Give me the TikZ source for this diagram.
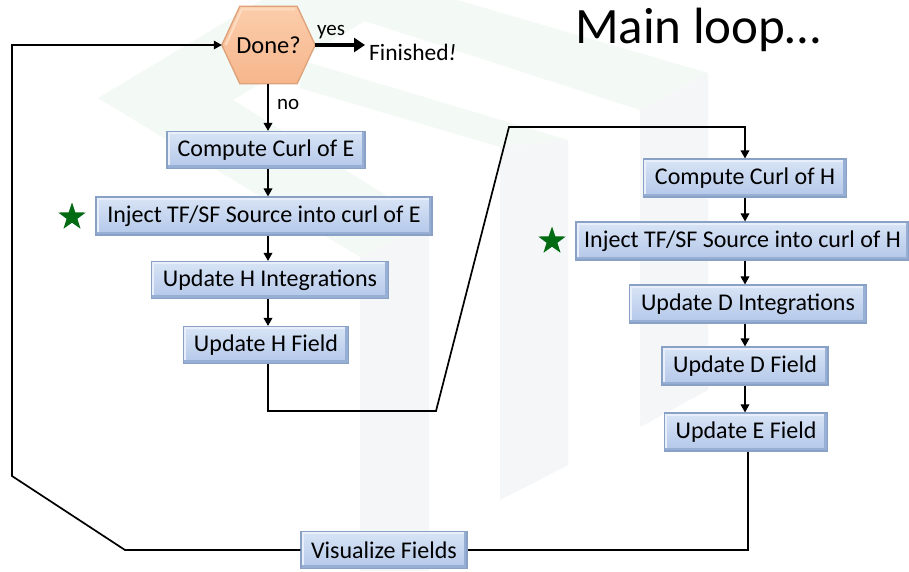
\documentclass[tikz,border=0pt]{standalone}
\usepackage{fontspec}
\setmainfont{Carlito}
\usetikzlibrary{arrows.meta,shapes.geometric}
\definecolor{boxtop}{HTML}{D9E5F6}
\definecolor{boxbot}{HTML}{B3C7E9}
\definecolor{boxline}{HTML}{8AA1C6}
\definecolor{boxdark}{HTML}{97AFD5}
\definecolor{boxlight}{HTML}{E8EFFA}
\definecolor{hextop}{HTML}{FBCDAB}
\definecolor{hexbot}{HTML}{F6B68C}
\definecolor{hexline}{HTML}{DDA27A}
\definecolor{hexlight}{HTML}{FDDCC2}
\definecolor{stargreen}{HTML}{006B12}
\definecolor{wmgreen}{HTML}{F3F9F5}
\definecolor{wmgray}{HTML}{F5F6F8}
\pgfdeclarelayer{bg}
\pgfsetlayers{bg,main}
\begin{document}
\begin{tikzpicture}[x=1pt,y=-1pt,
  fbox/.style={draw=boxline, line width=1.1pt, top color=boxtop, bottom color=boxbot,
    minimum height=37pt, inner sep=0pt, font=\fontsize{24}{26}\selectfont,
    path picture={
      \fill[boxdark] (path picture bounding box.south west) rectangle ([yshift=3.5pt]path picture bounding box.south east);
      \fill[boxdark] ([xshift=-3.5pt]path picture bounding box.south east) rectangle (path picture bounding box.north east);
      \fill[boxlight] ([yshift=-2.5pt]path picture bounding box.north west) rectangle ([xshift=-3.5pt]path picture bounding box.north east);
      \fill[boxlight] ([yshift=3.5pt]path picture bounding box.south west) rectangle ([xshift=2.5pt]path picture bounding box.north west);
    }},
  conn/.style={line width=1.7pt, draw=black},
  arr/.style={conn, -{Triangle[length=8pt,width=8.5pt]}},
  lbl/.style={font=\fontsize{21}{23}\selectfont, inner sep=0pt},
  starnode/.style={star, star points=5, star point ratio=2.55, fill=stargreen, minimum size=29pt, inner sep=0pt}
]
\useasboundingbox (0,0) rectangle (909,571);
\begin{pgfonlayer}{bg}
\fill[white] (0,0) rectangle (909,571);
% faint watermark
\fill[wmgreen] (98,98) -- (233,100) -- (429,222) -- (360,257) -- cycle;
\fill[wmgreen] (98,98) -- (262,0) -- (400,0) -- (233,100) -- cycle;
\fill[wmgreen] (300,0) -- (457,0) -- (708,73) -- (640,110) -- cycle;
\fill[wmgreen] (300,60) -- (568,140) -- (500,147) -- (300,88) -- cycle;
\fill[wmgray] (360,257) -- (429,222) -- (429,571) -- (360,571) -- cycle;
\fill[wmgray] (500,147) -- (568,140) -- (568,465) -- (500,500) -- cycle;
\fill[wmgray] (640,110) -- (708,73) -- (708,390) -- (640,427) -- cycle;
\end{pgfonlayer}

% decision
\node[minimum width=93pt, minimum height=77pt, inner sep=0pt, font=\fontsize{24.5}{26}\selectfont] (done) at (268.5,45) {Done?};
\begin{pgfonlayer}{bg}
\path[draw=hexline, line width=1.3pt, top color=hextop, bottom color=hexbot]
  (done.west) -- ([xshift=18pt]done.north west) -- ([xshift=-18pt]done.north east)
  -- (done.east) -- ([xshift=-18pt]done.south east) -- ([xshift=18pt]done.south west) -- cycle;
\draw[hexlight, line width=2pt]
  ([xshift=4pt]done.west) -- ([xshift=20pt,yshift=-3pt]done.north west) -- ([xshift=-20pt,yshift=-3pt]done.north east);
\end{pgfonlayer}
\node[lbl, anchor=west, font=\fontsize{23.5}{25}\selectfont] (fin) at (369,52) {Finished\textit{!}};
\coordinate (yesend) at (365,45);

% left column
\node[fbox, minimum width=198pt] (ccE) at (266,150) {Compute Curl of E};
\node[fbox, minimum width=336pt, minimum height=38pt] (injE) at (264,216) {Inject TF/SF Source into curl of E};
\node[fbox, minimum width=237pt] (updHI) at (270,280) {Update H Integrations};
\node[fbox, minimum width=165pt] (updHF) at (266,345) {Update H Field};
\node[starnode] (starE) at (72,217) {};

% right column
\node[fbox, minimum width=203pt, minimum height=38pt] (ccH) at (745,178) {Compute Curl of H};
\node[fbox, minimum width=333pt, minimum height=38pt] (injH) at (742.5,241) {Inject TF/SF Source into curl of H};
\node[fbox, minimum width=237pt, minimum height=38pt] (updDI) at (748,304) {Update D Integrations};
\node[fbox, minimum width=166pt, minimum height=38pt] (updDF) at (745,366) {Update D Field};
\node[fbox, minimum width=163pt, minimum height=38pt] (updEF) at (746,432) {Update E Field};
\node[starnode] (starH) at (552,241) {};

% bottom
\node[fbox, minimum width=166pt] (vis) at (384,550) {Visualize Fields};

% title
\node[anchor=west, inner sep=0pt, font=\fontsize{51}{56}\selectfont] (title) at (575,30) {Main loop…};

% column guides
\coordinate (cL) at (268,0);
\coordinate (cR) at (745,0);

% connectors
\draw[line width=4.5pt, -{Triangle[length=11pt,width=14pt]}] (done.east) -- (yesend);
\node[lbl, anchor=south west] (yes) at (317,39) {yes};
\draw[arr] (cL |- done.south) -- (cL |- ccE.north);
\node[lbl, anchor=west] (no) at (277,104) {no};
\draw[arr] (cL |- ccE.south) -- (cL |- injE.north);
\draw[arr] (cL |- injE.south) -- (cL |- updHI.north);
\draw[arr] (cL |- updHI.south) -- (cL |- updHF.north);
\draw[conn] (cL |- updHF.south) -- (268,411) -- (436,411) -- (509,127) -- (745,127);
\draw[arr] (745,126.2) -- (cR |- ccH.north);
\draw[arr] (cR |- ccH.south) -- (cR |- injH.north);
\draw[arr] (cR |- injH.south) -- (cR |- updDI.north);
\draw[arr] (cR |- updDI.south) -- (cR |- updDF.north);
\draw[arr] (cR |- updDF.south) -- (cR |- updEF.north);
\draw[conn] (748,0 |- updEF.south) -- (748,550) -- (vis.east);
\draw[arr] (vis.west) -- (125,550) -- (12,476) -- (12,45) -- (done.west);
\end{tikzpicture}
\end{document}
